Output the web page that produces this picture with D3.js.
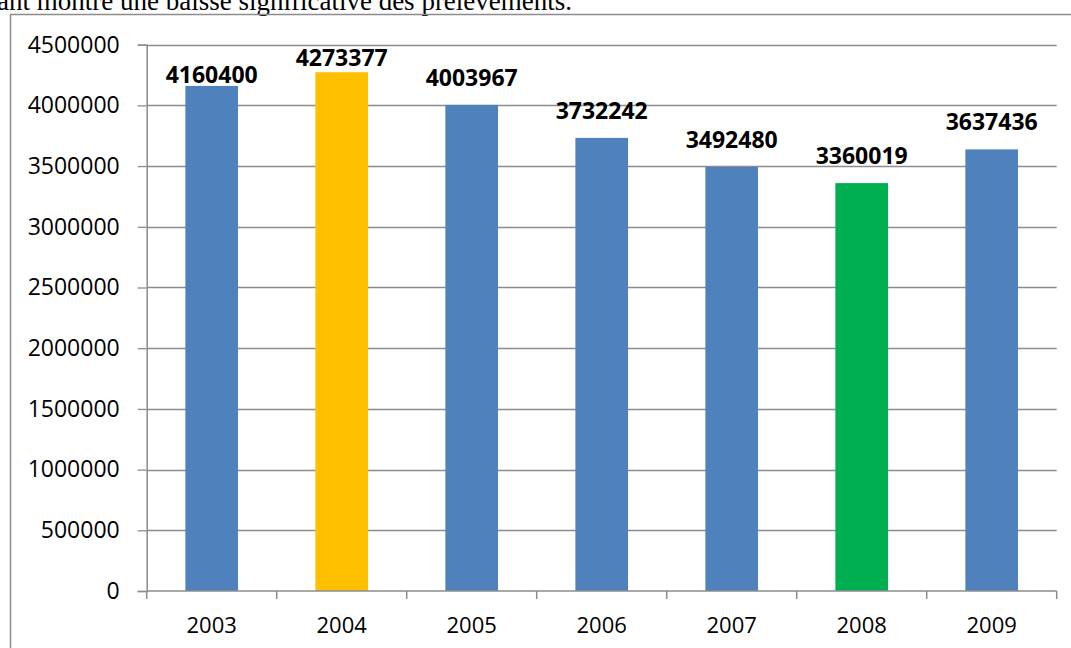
<!DOCTYPE html>
<html>
<head>
<meta charset="utf-8">
<script src="https://cdn.jsdelivr.net/npm/d3@7"></script>
<style>
  html, body { margin: 0; padding: 0; background: #fff; }
  svg { display: block; }
</style>
</head>
<body>
<svg id="chart" width="1071" height="648"></svg>
<script>
// Annual withdrawals, 2003–2009
const years = ["2003", "2004", "2005", "2006", "2007", "2008", "2009"];
const volumes = [4160400, 4273377, 4003967, 3732242, 3492480, 3360019, 3637436];
const yTicks = [0, 500000, 1000000, 1500000, 2000000, 2500000, 3000000, 3500000, 4000000, 4500000];
// highest year in amber, lowest in green, the rest in blue
const barColors = ["#4F81BD", "#FFC000", "#4F81BD", "#4F81BD", "#4F81BD", "#00B050", "#4F81BD"];
const captionText = "ant montre une baisse significative des prélèvements.";

const svg = d3.select("#chart");
const W = 1071, H = 648;
const plot = { left: 146.7, right: 1056.7, top: 44.7, bottom: 591 };
const gridColor = "#8c8c8c";
const sans = "'Open Sans', 'Noto Sans', sans-serif";

// running text of the page above the chart
svg.append("text")
  .attr("x", -3).attr("y", 10)
  .attr("font-family", "'Liberation Serif', 'Times New Roman', serif")
  .attr("font-size", 27)
  .attr("fill", "#000")
  .text(captionText);

// chart frame (top and left edges fall inside the page)
svg.append("path")
  .attr("d", `M10.5,${H} L10.5,14.5 L${W},14.5`)
  .attr("fill", "none").attr("stroke", gridColor).attr("stroke-width", 1.5);

const x = d3.scaleBand()
  .domain(years)
  .range([plot.left, plot.right])
  .paddingInner(0.595)
  .paddingOuter(0.2975);

const y = d3.scaleLinear()
  .domain([0, 4500000])
  .range([plot.bottom, plot.top]);

// horizontal gridlines
svg.append("g")
  .selectAll("line")
  .data(yTicks.filter(d => d > 0))
  .join("line")
  .attr("x1", plot.left).attr("x2", plot.right)
  .attr("y1", d => Math.round(y(d)) + 0.5).attr("y2", d => Math.round(y(d)) + 0.5)
  .attr("stroke", gridColor).attr("stroke-width", 1.3);

// y axis
const yAxis = svg.append("g")
  .attr("transform", `translate(${plot.left},0)`)
  .call(d3.axisLeft(y).tickValues(yTicks).tickFormat(d3.format("d")).tickSize(9).tickPadding(18));
yAxis.select(".domain").attr("stroke", gridColor).attr("stroke-width", 1.5);
yAxis.selectAll(".tick line").attr("stroke", gridColor).attr("stroke-width", 1.3);
yAxis.selectAll(".tick text")
  .attr("font-family", sans).attr("font-size", 23).attr("fill", "#000");

// bars
svg.append("g")
  .selectAll("rect")
  .data(years)
  .join("rect")
  .attr("x", d => x(d))
  .attr("width", x.bandwidth())
  .attr("y", (d, i) => y(volumes[i]))
  .attr("height", (d, i) => y(0) - y(volumes[i]))
  .attr("fill", (d, i) => barColors[i]);

// x axis: ticks sit on the category boundaries
const boundaries = d3.range(years.length + 1).map(i => plot.left + i * x.step());
const xAxis = svg.append("g");
xAxis.append("line")
  .attr("x1", plot.left).attr("x2", plot.right)
  .attr("y1", plot.bottom).attr("y2", plot.bottom)
  .attr("stroke", gridColor).attr("stroke-width", 1.5);
xAxis.selectAll("line.tick")
  .data(boundaries)
  .join("line")
  .attr("class", "tick")
  .attr("x1", d => d).attr("x2", d => d)
  .attr("y1", plot.bottom).attr("y2", plot.bottom + 8)
  .attr("stroke", gridColor).attr("stroke-width", 1.5);
xAxis.selectAll("text")
  .data(years)
  .join("text")
  .attr("x", d => x(d) + x.bandwidth() / 2)
  .attr("y", 633)
  .attr("text-anchor", "middle")
  .attr("font-family", sans).attr("font-size", 22).attr("fill", "#000")
  .text(d => d);

// value labels above the bars; the two tallest are pulled down to stay inside the plot
const labelGap = 19;
const labelPull = { "2003": 16, "2004": 12.5 };
svg.append("g")
  .selectAll("text")
  .data(years)
  .join("text")
  .attr("x", d => x(d) + x.bandwidth() / 2)
  .attr("y", (d, i) => y(volumes[i]) - labelGap + (labelPull[d] || 0))
  .attr("text-anchor", "middle")
  .attr("font-family", sans).attr("font-size", 23).attr("font-weight", "bold").attr("fill", "#000")
  .text((d, i) => volumes[i]);
</script>
</body>
</html>
